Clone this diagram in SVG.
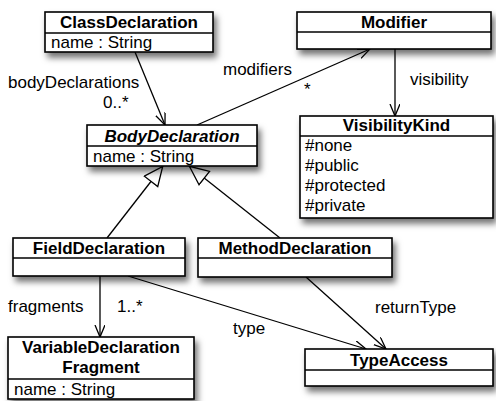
<svg xmlns="http://www.w3.org/2000/svg" width="496" height="401" viewBox="0 0 496 401">
<style>
.box{fill:#fff;stroke:#000;stroke-width:1.6}
.div{stroke:#000;stroke-width:1.4}
.hd{font-family:"Liberation Sans",Arial,sans-serif;font-size:17px;font-weight:bold;text-anchor:middle;fill:#000}
.at{font-family:"Liberation Sans",Arial,sans-serif;font-size:17px;fill:#000}
.lbl{font-family:"Liberation Sans",Arial,sans-serif;font-size:17px;fill:#000}
.edge{stroke:#000;stroke-width:1.3;fill:none}
</style>
<defs>
<filter id="sh" x="-10%" y="-20%" width="130%" height="160%">
<feDropShadow dx="3" dy="5" stdDeviation="3" flood-color="#000" flood-opacity="0.55"/>
</filter>
<marker id="open" markerUnits="userSpaceOnUse" markerWidth="14" markerHeight="12" refX="12" refY="5" orient="auto">
<path d="M0,0 L12,5 L0,10" fill="none" stroke="#000" stroke-width="1.3"/>
</marker>
<marker id="gen" markerUnits="userSpaceOnUse" markerWidth="22" markerHeight="20" refX="20.5" refY="9.5" orient="auto">
<path d="M1,1 L20,9.5 L1,18 Z" fill="#fff" stroke="#000" stroke-width="1.3"/>
</marker>
</defs>

<g id="connectors">
<line class="edge" x1="135" y1="52" x2="165" y2="125" marker-end="url(#open)"/>
<line class="edge" x1="197" y1="125" x2="370" y2="49" marker-end="url(#open)"/>
<line class="edge" x1="395" y1="49" x2="395" y2="116" marker-end="url(#open)"/>
<line class="edge" x1="100" y1="276" x2="100" y2="337" marker-end="url(#open)"/>
<line class="edge" x1="128" y1="276" x2="366" y2="349" marker-end="url(#open)"/>
<line class="edge" x1="306" y1="277" x2="386" y2="349" marker-end="url(#open)"/>
<line class="edge" x1="107" y1="238" x2="163" y2="166" marker-end="url(#gen)"/>
<line class="edge" x1="280" y1="238" x2="189" y2="166" marker-end="url(#gen)"/>
<text class="lbl" x="8" y="88">bodyDeclarations</text>
<text class="lbl" x="103" y="108">0..*</text>
<text class="lbl" x="223" y="75">modifiers</text>
<text class="lbl" x="304" y="95">*</text>
<text class="lbl" x="410" y="85">visibility</text>
<text class="lbl" x="8" y="312">fragments</text>
<text class="lbl" x="117" y="312">1..*</text>
<text class="lbl" x="233" y="334">type</text>
<text class="lbl" x="375" y="313">returnType</text>
</g>

<g id="ClassDeclaration">
<rect class="box" x="45" y="12" width="168" height="40" filter="url(#sh)"/>
<line class="div" x1="45" y1="33" x2="213" y2="33"/>
<text class="hd" x="129" y="28">ClassDeclaration</text>
<text class="at" x="51" y="48">name : String</text>
</g>

<g id="Modifier">
<rect class="box" x="297" y="12" width="194" height="37" filter="url(#sh)"/>
<line class="div" x1="297" y1="32" x2="491" y2="32"/>
<text class="hd" x="394" y="28">Modifier</text>
</g>

<g id="VisibilityKind">
<rect class="box" x="300" y="116" width="193" height="102" filter="url(#sh)"/>
<line class="div" x1="300" y1="136" x2="493" y2="136"/>
<text class="hd" x="396.5" y="131">VisibilityKind</text>
<text class="at" x="305" y="151">#none</text>
<text class="at" x="305" y="171">#public</text>
<text class="at" x="305" y="191">#protected</text>
<text class="at" x="305" y="211">#private</text>
</g>

<g id="BodyDeclaration">
<rect class="box" x="87" y="125" width="170" height="41" filter="url(#sh)"/>
<line class="div" x1="87" y1="146" x2="257" y2="146"/>
<text class="hd" x="172" y="142" font-style="italic">BodyDeclaration</text>
<text class="at" x="93" y="162">name : String</text>
</g>

<g id="FieldDeclaration">
<rect class="box" x="13" y="238" width="172" height="38" filter="url(#sh)"/>
<line class="div" x1="13" y1="258" x2="185" y2="258"/>
<text class="hd" x="99" y="254">FieldDeclaration</text>
</g>

<g id="MethodDeclaration">
<rect class="box" x="198" y="238" width="194" height="39" filter="url(#sh)"/>
<line class="div" x1="198" y1="258" x2="392" y2="258"/>
<text class="hd" x="295" y="254">MethodDeclaration</text>
</g>

<g id="VariableDeclarationFragment">
<rect class="box" x="8" y="337" width="186" height="62" filter="url(#sh)"/>
<line class="div" x1="8" y1="379" x2="194" y2="379"/>
<text class="hd" x="101" y="353">VariableDeclaration</text>
<text class="hd" x="101" y="373">Fragment</text>
<text class="at" x="14" y="395">name : String</text>
</g>

<g id="TypeAccess">
<rect class="box" x="305" y="349" width="188" height="37" filter="url(#sh)"/>
<line class="div" x1="305" y1="370" x2="493" y2="370"/>
<text class="hd" x="399" y="366">TypeAccess</text>
</g>
</svg>
